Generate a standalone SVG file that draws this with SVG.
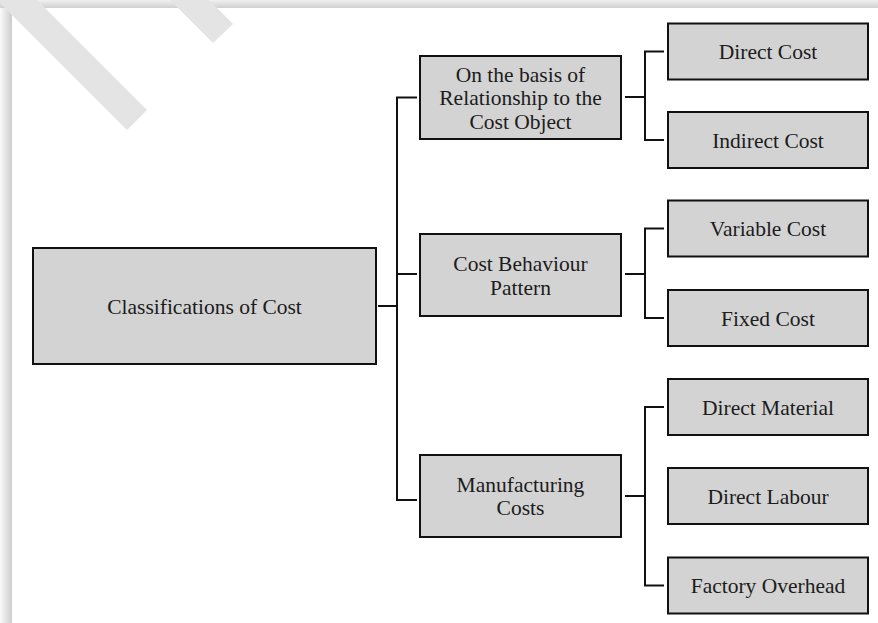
<svg xmlns="http://www.w3.org/2000/svg" width="878" height="623" viewBox="0 0 878 623">
  <defs>
    <linearGradient id="gTop" x1="0" y1="0" x2="0" y2="1">
      <stop offset="0" stop-color="#f0f0f0"/>
      <stop offset="1" stop-color="#d0d0d0"/>
    </linearGradient>
    <linearGradient id="gLeft" x1="0" y1="0" x2="1" y2="0">
      <stop offset="0" stop-color="#fafafa"/>
      <stop offset="1" stop-color="#cdcdcd"/>
    </linearGradient>
  </defs>
  <style>
    .box { fill: #d3d3d3; stroke: #111; stroke-width: 2; }
    .lbl { font-family: "Liberation Serif", "Times New Roman", serif; font-size: 21.5px; fill: #1c1c1c; text-anchor: middle; }
    .conn { fill: none; stroke: #111; stroke-width: 2; }
    .wm { fill: #e4e4e4; }
  </style>
  <rect x="0" y="0" width="878" height="623" fill="#ffffff"/>
  <!-- frame shadow -->
  <rect x="0" y="0" width="878" height="8" fill="url(#gTop)"/>
  <rect x="0" y="8" width="12" height="615" fill="url(#gLeft)"/>
  <!-- watermark stripes -->
  <polygon class="wm" points="-3,0 37,0 147,110 127,130"/>
  <polygon class="wm" points="170,0 209,0 233,24 213,43"/>

  <g id="connectors">
    <path class="conn" d="M378 306 H397"/>
    <path class="conn" d="M417 97.5 H397 V500 H417"/>
    <path class="conn" d="M397 274 H417"/>
    <path class="conn" d="M625 97 H645"/>
    <path class="conn" d="M664 51.5 H645 V140 H664"/>
    <path class="conn" d="M625 274 H645"/>
    <path class="conn" d="M664 228.5 H645 V318 H664"/>
    <path class="conn" d="M625 496 H645"/>
    <path class="conn" d="M664 407 H645 V585.5 H664"/>
  </g>

  <g id="root">
    <rect class="box" x="33" y="248" width="343" height="116"/>
    <text class="lbl" x="204.5" y="313.5">Classifications of Cost</text>
  </g>

  <g id="relationship">
    <rect class="box" x="420" y="56" width="201" height="83"/>
    <text class="lbl" x="520.5" y="81.5">On the basis of</text>
    <text class="lbl" x="520.5" y="105">Relationship to the</text>
    <text class="lbl" x="520.5" y="128.5">Cost Object</text>
  </g>

  <g id="behaviour">
    <rect class="box" x="420" y="234" width="201" height="82"/>
    <text class="lbl" x="520.5" y="271">Cost Behaviour</text>
    <text class="lbl" x="520.5" y="294.5">Pattern</text>
  </g>

  <g id="manufacturing">
    <rect class="box" x="420" y="455" width="201" height="82"/>
    <text class="lbl" x="520.5" y="491.8">Manufacturing</text>
    <text class="lbl" x="520.5" y="515.2">Costs</text>
  </g>

  <g id="direct-cost">
    <rect class="box" x="668" y="23.5" width="200" height="56"/>
    <text class="lbl" x="768" y="59">Direct Cost</text>
  </g>
  <g id="indirect-cost">
    <rect class="box" x="668" y="112" width="200" height="56"/>
    <text class="lbl" x="768" y="147.5">Indirect Cost</text>
  </g>
  <g id="variable-cost">
    <rect class="box" x="668" y="200.5" width="200" height="56"/>
    <text class="lbl" x="768" y="236">Variable Cost</text>
  </g>
  <g id="fixed-cost">
    <rect class="box" x="668" y="290" width="200" height="56"/>
    <text class="lbl" x="768" y="325.5">Fixed Cost</text>
  </g>
  <g id="direct-material">
    <rect class="box" x="668" y="379" width="200" height="56"/>
    <text class="lbl" x="768" y="414.5">Direct Material</text>
  </g>
  <g id="direct-labour">
    <rect class="box" x="668" y="468" width="200" height="56"/>
    <text class="lbl" x="768" y="503.5">Direct Labour</text>
  </g>
  <g id="factory-overhead">
    <rect class="box" x="668" y="557.5" width="200" height="56"/>
    <text class="lbl" x="768" y="593">Factory Overhead</text>
  </g>
</svg>
